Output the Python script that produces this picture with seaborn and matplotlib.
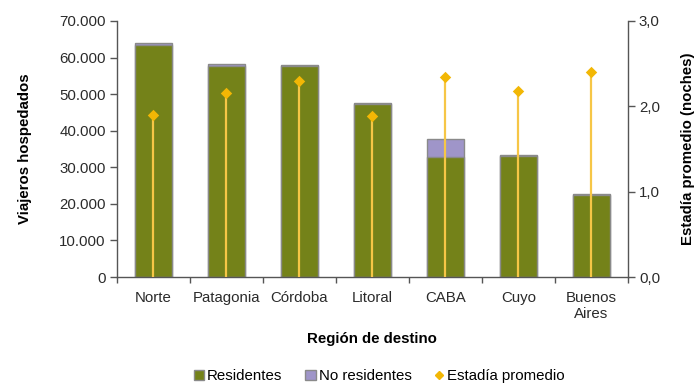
import matplotlib
matplotlib.use("Agg")
import matplotlib.pyplot as plt
import matplotlib.ticker as mticker
from matplotlib.lines import Line2D
from matplotlib.patches import Patch
import seaborn as sns
import pandas as pd

regiones = ["Norte", "Patagonia", "Córdoba", "Litoral", "CABA", "Cuyo", "Buenos\nAires"]
residentes = [63500, 57800, 57700, 47300, 32900, 33000, 22400]
no_residentes = [600, 400, 400, 300, 4700, 300, 300]
estadia = [1.90, 2.16, 2.30, 1.89, 2.34, 2.18, 2.40]

sns.set_theme(style="white")
plt.rcParams["font.family"] = ["Liberation Sans", "DejaVu Sans"]

df = pd.DataFrame({"region": regiones, "res": residentes, "nores": no_residentes, "est": estadia})
df["total"] = df["res"] + df["nores"]

green = "#748219"
purple = "#9f95c9"
gold = "#f2b705"
line_gold = "#f6c646"
edge = "#8a8a8a"
txt = "#2b2b2b"
fs = 10.8

fig = plt.figure(figsize=(6.96, 3.85), dpi=100)
ax = fig.add_axes([0.168, 0.2805, 0.734, 0.665])

sns.barplot(data=df, x="region", y="total", color=purple, width=0.5,
            edgecolor=edge, linewidth=1.0, ax=ax, saturation=1)
sns.barplot(data=df, x="region", y="res", color=green, width=0.5,
            edgecolor=edge, linewidth=1.0, ax=ax, saturation=1)

n = len(regiones)
ax.set_xlim(-0.5, n - 0.5)
ax.set_xticks([i - 0.5 for i in range(n + 1)], minor=True)
ax.set_ylim(0, 70000)
ax.yaxis.set_major_locator(mticker.MultipleLocator(10000))
ax.yaxis.set_major_formatter(mticker.FuncFormatter(lambda v, p: "0" if v == 0 else f"{int(v):,}".replace(",", ".")))
ax.set_ylabel("Viajeros hospedados", fontsize=fs, fontweight="bold", color="black", labelpad=20)
ax.set_xlabel("Región de destino", fontsize=fs, fontweight="bold", color="black", labelpad=8)

ax2 = ax.twinx()
xs = list(range(n))
ax2.vlines(xs, 0, df["est"], color=line_gold, linewidth=1.6, zorder=2)
sns.scatterplot(x=xs, y=df["est"], marker="D", color=gold, s=34, edgecolor=gold, linewidth=0, ax=ax2, zorder=3)
ax2.set_ylim(0, 3.0)
ax2.yaxis.set_major_locator(mticker.MultipleLocator(1.0))
ax2.yaxis.set_major_formatter(mticker.FuncFormatter(lambda v, p: f"{v:.1f}".replace(".", ",")))
ax2.set_ylabel("Estadía promedio (noches)", fontsize=fs, fontweight="bold", color="black", labelpad=15)
ax2.set_xlim(-0.5, n - 0.5)

for a in (ax, ax2):
    for s in a.spines.values():
        s.set_color("#555555")
        s.set_linewidth(1.0)
    a.spines["top"].set_visible(False)
ax.spines["right"].set_visible(False)
ax2.spines["left"].set_visible(False)
ax2.spines["bottom"].set_visible(False)

ax.tick_params(axis="y", which="both", left=True, length=5, width=1, color="#555555",
               labelsize=fs, labelcolor=txt, pad=3)
ax.tick_params(axis="x", which="major", bottom=False, labelsize=fs, labelcolor=txt, pad=4)
ax.tick_params(axis="x", which="minor", bottom=True, length=4, width=1, color="#555555")
ax2.tick_params(axis="y", right=True, length=5, width=1, color="#555555",
                labelsize=fs, labelcolor=txt, pad=3)

handles = [Patch(facecolor=green, edgecolor=edge, label="Residentes"),
           Patch(facecolor=purple, edgecolor=edge, label="No residentes"),
           Line2D([], [], marker="D", color=gold, linestyle="none", markersize=4.5, label="Estadía promedio")]
fig.legend(handles=handles, loc="lower center", bbox_to_anchor=(0.545, -0.03), ncol=3, frameon=False,
           fontsize=fs, handlelength=0.7, handleheight=0.7, handletextpad=0.2, columnspacing=1.5,
           labelcolor="black")

fig.savefig("out.png", dpi=100)
